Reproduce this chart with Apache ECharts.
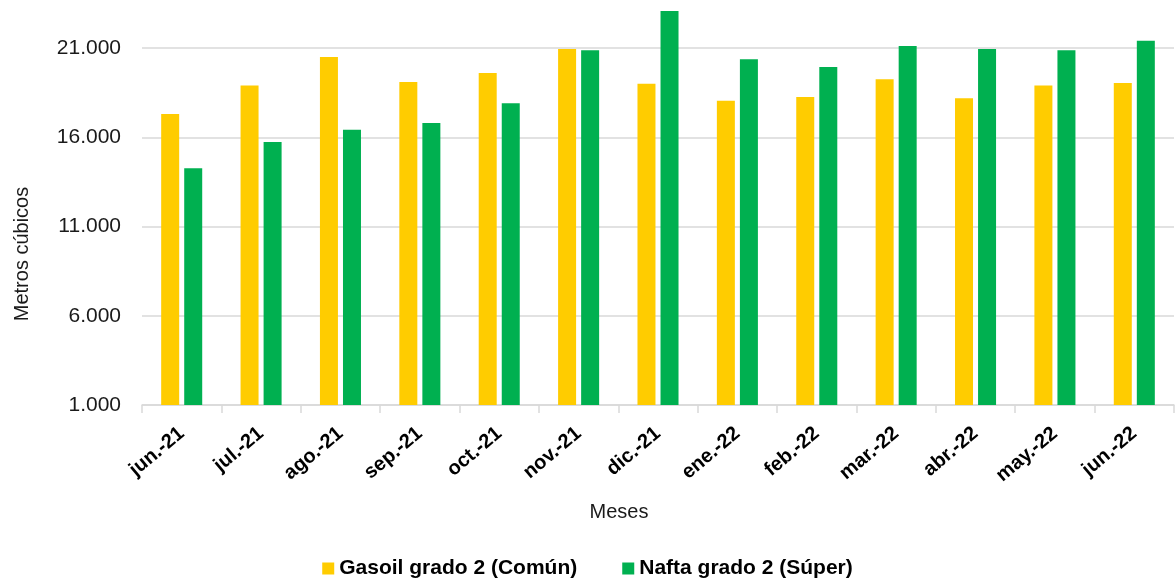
<!DOCTYPE html>
<html>
<head>
<meta charset="utf-8">
<script src="https://cdn.jsdelivr.net/npm/echarts@6/dist/echarts.min.js"></script>
<style>
  html, body { margin: 0; padding: 0; background: #fff; }
  #chart { width: 1175px; height: 581px; }
</style>
</head>
<body>
<div id="chart"></div>
<script>
  // datos
  var meses = ['jun.-21', 'jul.-21', 'ago.-21', 'sep.-21', 'oct.-21', 'nov.-21', 'dic.-21',
               'ene.-22', 'feb.-22', 'mar.-22', 'abr.-22', 'may.-22', 'jun.-22'];
  var gasoil = [17300, 18900, 20500, 19100, 19600, 20950, 19000, 18050, 18250, 19250, 18180, 18900, 19040];
  var nafta = [14260, 15730, 16420, 16800, 17900, 20870, 23070, 20370, 19940, 21110, 20940, 20870, 21410];
  var yTicks = [1000, 6000, 11000, 16000, 21000];

  var font = '"Liberation Sans", Arial, Helvetica, sans-serif';
  var myChart = echarts.init(document.getElementById('chart'));

  function fmt(v) {
    return String(v).replace(/\B(?=(\d{3})+(?!\d))/g, '.');
  }

  myChart.setOption({
    animation: false,
    backgroundColor: '#fff',
    color: ['#FFCC00', '#00B050'],
    textStyle: { fontFamily: font },
    grid: { left: 142, right: 1, top: 10, bottom: 176 },
    legend: {
      data: ['Gasoil grado 2 (Común)', 'Nafta grado 2 (Súper)'],
      left: 'center',
      top: 553,
      icon: 'rect',
      itemWidth: 12,
      itemHeight: 12,
      itemGap: 45,
      textStyle: { fontSize: 21, fontWeight: 'bold', color: '#000', fontFamily: font }
    },
    graphic: [
      {
        type: 'text',
        x: 22, y: 254,
        rotation: Math.PI / 2,
        style: {
          text: 'Metros cúbicos', fill: '#1a1a1a', font: '20px ' + font,
          textAlign: 'center', textVerticalAlign: 'middle'
        }
      },
      {
        type: 'text',
        x: 619, y: 512,
        style: {
          text: 'Meses', fill: '#1a1a1a', font: '20px ' + font,
          textAlign: 'center', textVerticalAlign: 'middle'
        }
      }
    ],
    xAxis: {
      type: 'category',
      data: meses,
      axisLine: { lineStyle: { color: '#d9d9d9', width: 1.5 } },
      axisTick: { show: true, length: 8, interval: 0, lineStyle: { color: '#d9d9d9', width: 1.5 } },
      axisLabel: {
        interval: 0, rotate: 40, margin: 26,
        fontSize: 20, fontWeight: 'bold', color: '#000', fontFamily: font
      }
    },
    yAxis: {
      type: 'value',
      min: yTicks[0],
      max: 23130,
      interval: yTicks[1] - yTicks[0],
      axisLine: { show: false },
      axisTick: { show: false },
      splitLine: { showMaxLine: false, lineStyle: { color: '#d9d9d9', width: 1.5 } },
      axisLabel: {
        margin: 21, fontSize: 21, color: '#1a1a1a', fontFamily: font,
        showMaxLabel: false,
        formatter: function (v) { return yTicks.indexOf(v) >= 0 ? fmt(v) : ''; }
      }
    },
    series: [
      {
        name: 'Gasoil grado 2 (Común)',
        type: 'bar',
        barWidth: 18,
        barGap: '28%',
        data: gasoil
      },
      {
        name: 'Nafta grado 2 (Súper)',
        type: 'bar',
        barWidth: 18,
        barGap: '28%',
        data: nafta
      }
    ]
  });
</script>
</body>
</html>
